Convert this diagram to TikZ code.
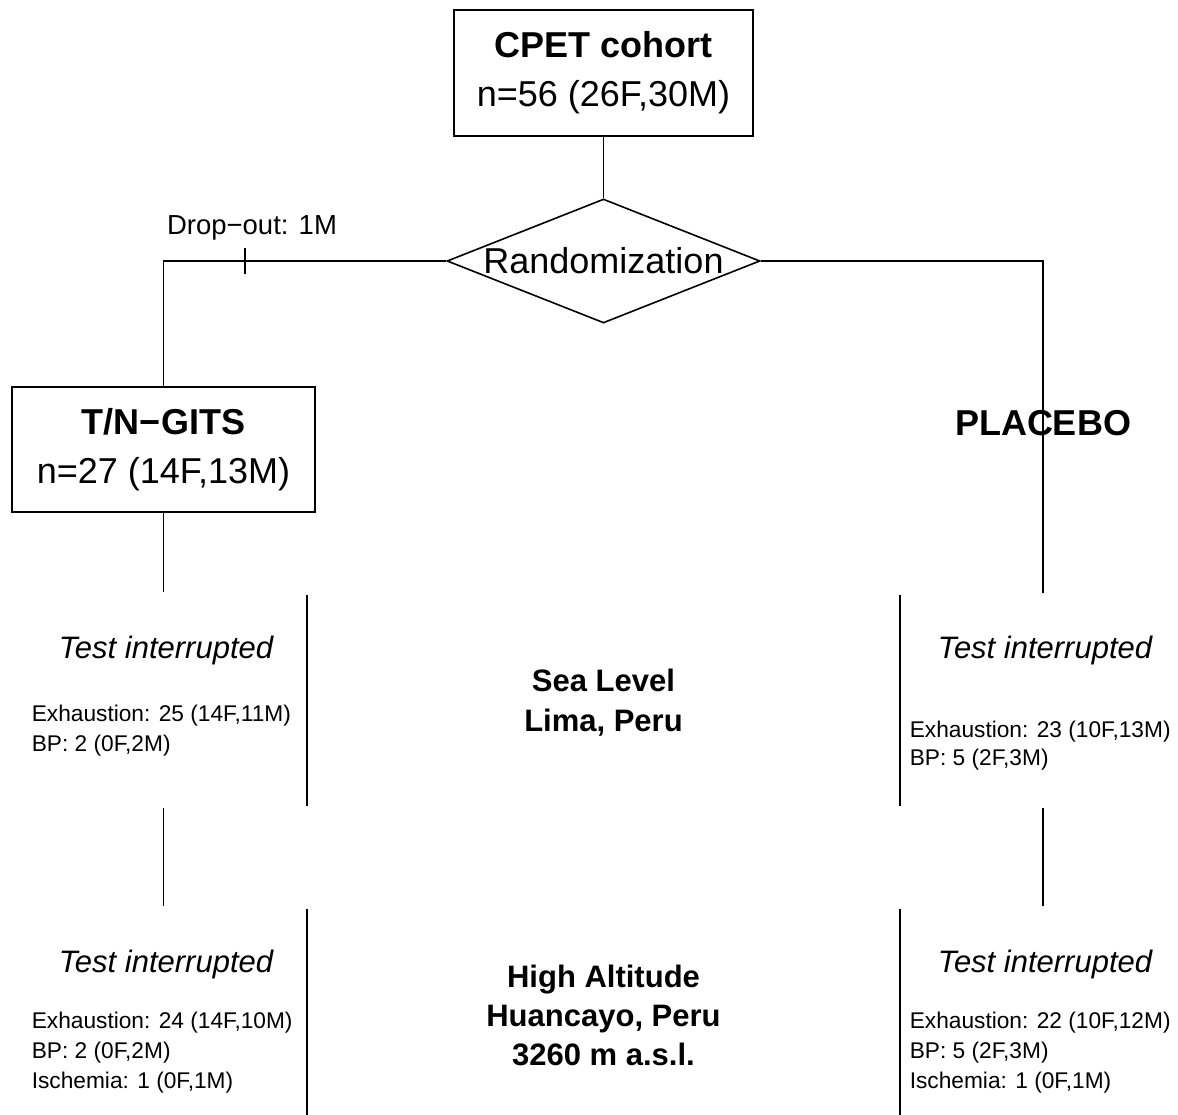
\documentclass[tikz,border=0pt]{standalone}
\usepackage{fontspec}
\setmainfont{Liberation Sans}
\usetikzlibrary{shapes.geometric}
\begin{document}
\begin{tikzpicture}[x=1pt,y=-1pt,
  line width=1.6pt,
  box/.style={draw, rectangle, align=center, inner sep=0pt, font=\fontsize{36}{49}\selectfont},
  bigtxt/.style={font=\fontsize{36}{48}\selectfont\bfseries, inner sep=0pt, anchor=base},
  randtxt/.style={font=\fontsize{36}{48}\selectfont, inner sep=0pt, anchor=base},
  droptxt/.style={font=\fontsize{27.5}{32}\selectfont, inner sep=0pt, anchor=base},
  testtxt/.style={font=\fontsize{31}{36}\selectfont\itshape, inner sep=0pt, anchor=base},
  sitetxt/.style={font=\fontsize{31}{40}\selectfont\bfseries, inner sep=0pt, anchor=base},
  smalltxt/.style={font=\fontsize{22.7}{30}\selectfont, inner sep=0pt, anchor=base west}]
\useasboundingbox (0,0) rectangle (1178,1115);

% top box and randomization
\node[box, minimum width=299pt, minimum height=126pt] (cpet) at (603.5,73) {\textbf{CPET cohort}\\n=56 (26F,30M)};
\node[diamond, draw, minimum width=313pt, minimum height=124pt, inner sep=0pt] (rand) at (603.5,261) {};
\node[randtxt] (randlbl) at (603.5,274) {Randomization};
\draw (cpet.south) -- (rand.north);

% treatment arms
\node[box, minimum width=303pt, minimum height=125pt] (tn) at (163.5,449.5) {\textbf{T/N−GITS}\\n=27 (14F,13M)};
\node[bigtxt] (placebo) at (1043,435) {PLACEBO};
\coordinate (tnend) at (163.5,592);
\coordinate (plend) at (1043,593);
\draw (rand.west) -| (tn.north);
\draw (rand.east) -| (plend);
\draw (tn.south) -- (tnend);

% drop-out tick
\coordinate (tick) at (245,261);
\draw (tick) ++(0,-13) -- ++(0,26);
\node[droptxt] (drop) at (252,235) {Drop−out: 1M};

% vertical dividers
\coordinate (dl1a) at (307,595); \coordinate (dl1b) at (307,806);
\coordinate (dr1a) at (900,595); \coordinate (dr1b) at (900,806);
\coordinate (dl2a) at (307,909); \coordinate (dl2b) at (307,1115);
\coordinate (dr2a) at (900,909); \coordinate (dr2b) at (900,1115);
\draw (dl1a) -- (dl1b);
\draw (dr1a) -- (dr1b);
\draw (dl2a) -- (dl2b);
\draw (dr2a) -- (dr2b);

% connectors between stages
\coordinate (ml1) at (163.5,808); \coordinate (ml2) at (163.5,906);
\coordinate (mr1) at (1043,808); \coordinate (mr2) at (1043,906);
\draw (ml1) -- (ml2);
\draw (mr1) -- (mr2);

% sea level panel
\node[testtxt] (tl1) at (166,658) {Test interrupted};
\node[smalltxt] (tl1a) at (31,721) {Exhaustion: 25 (14F,11M)};
\node[smalltxt] (tl1b) at (31,751) {BP: 2 (0F,2M)};
\node[sitetxt] (sea1) at (603.5,691) {Sea Level};
\node[sitetxt] (sea2) at (603.5,731) {Lima, Peru};
\node[testtxt] (tr1) at (1045,658) {Test interrupted};
\node[smalltxt] (tr1a) at (909,737) {Exhaustion: 23 (10F,13M)};
\node[smalltxt] (tr1b) at (909,765) {BP: 5 (2F,3M)};

% high altitude panel
\node[testtxt] (tl2) at (166,972) {Test interrupted};
\node[smalltxt] (tl2a) at (31,1028) {Exhaustion: 24 (14F,10M)};
\node[smalltxt] (tl2b) at (31,1058) {BP: 2 (0F,2M)};
\node[smalltxt] (tl2c) at (31,1088) {Ischemia: 1 (0F,1M)};
\node[sitetxt] (hi1) at (603.5,987) {High Altitude};
\node[sitetxt] (hi2) at (603.5,1026) {Huancayo, Peru};
\node[sitetxt] (hi3) at (603.5,1065) {3260 m a.s.l.};
\node[testtxt] (tr2) at (1045,972) {Test interrupted};
\node[smalltxt] (tr2a) at (909,1028) {Exhaustion: 22 (10F,12M)};
\node[smalltxt] (tr2b) at (909,1058) {BP: 5 (2F,3M)};
\node[smalltxt] (tr2c) at (909,1088) {Ischemia: 1 (0F,1M)};
\end{tikzpicture}
\end{document}
